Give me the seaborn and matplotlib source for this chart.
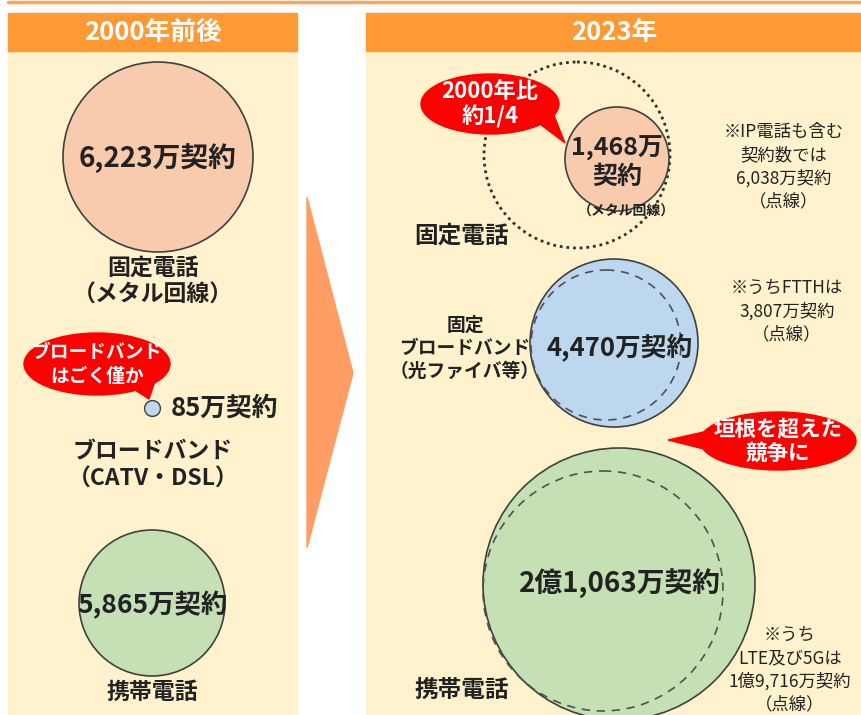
import matplotlib
matplotlib.use("Agg")
import matplotlib.pyplot as plt
from matplotlib.patches import Circle, Ellipse, Polygon, Rectangle
import seaborn as sns

# data (万契約)
services = ["固定電話", "ブロードバンド", "携帯電話"]
values_2000 = [6223, 85, 5865]
values_2023 = [1468, 4470, 21063]
subset_2023 = [6038, 3807, 19716]          # dotted / dashed circles
labels_2000 = ["固定電話\n（メタル回線）", "ブロードバンド\n（CATV・DSL）", "携帯電話"]
labels_2023 = ["固定電話", "固定\nブロードバンド\n（光ファイバ等）", "携帯電話"]
headers = ["2000年前後", "2023年"]
callouts = ["ブロードバンド\nはごく僅か", "2000年比\n約1/4", "垣根を超えた\n競争に"]

sns.set_theme(style="white")
plt.rcParams["font.family"] = ["Noto Sans CJK JP", "DejaVu Sans"]

CREAM = "#FFF2CC"
ORANGE = "#FF9933"
RED = "#FF0000"
INK = "#222222"
EDGE = "#404040"
fills = ["#F8CBAD", "#BDD7EE", "#C5E0B4"]


def fmt(v, split=False):
    if v >= 10000:
        s = f"{v // 10000}億{v % 10000:,}万"
    else:
        s = f"{v:,}万"
    return s + ("\n契約" if split else "契約")


def bubble(ax, cx, cy, w, h, tail, text, size, gap):
    ax.add_patch(Ellipse((cx, cy), w, h, color=RED, zorder=5))
    ax.add_patch(Polygon(tail, closed=True, color=RED, zorder=5))
    parts = text.split("\n")
    y0 = cy - gap * (len(parts) - 1) / 2
    for i, t in enumerate(parts):
        ax.text(cx, y0 + i * gap, t, fontsize=size, ha="center", va="center",
                color="white", fontweight="bold", zorder=6)


fig = plt.figure(figsize=(8.61, 7.15), dpi=100)
ax = fig.add_axes([0, 0, 1, 1])
ax.set_xlim(0, 861)
ax.set_ylim(715, 0)
ax.axis("off")

# panels and headers
ax.plot([8, 861], [1.5, 1.5], color="#F8A85A", lw=2.5, zorder=1)
for (x0, x1), h, hx in zip([(8, 297), (366, 861)], headers, [153, 614]):
    ax.add_patch(Rectangle((x0, 13), x1 - x0, 715 - 13, color=CREAM, zorder=0))
    ax.add_patch(Rectangle((x0, 13), x1 - x0, 38, color=ORANGE, zorder=1))
    ax.text(hx, 32, h, fontsize=18.5, color="white",
            fontweight="bold", ha="center", va="center", zorder=2)
ax.add_patch(Polygon([(307, 197), (353, 373), (307, 548)], color="#FF9E64", zorder=1))

# ---- 2000年前後
left_xy = [(158, 157), (152, 408), (152, 603)]
left_r = [95, 6, 73]
for i, v in enumerate(values_2000):
    (cx, cy), r = left_xy[i], left_r[i]
    if i == 1:
        sns.scatterplot(x=[cx], y=[cy], s=130, color=fills[1], edgecolor=EDGE,
                        linewidth=1, ax=ax, zorder=4, legend=False)
        ax.text(225, cy, fmt(v), fontsize=18.5, fontweight="bold", color=INK,
                ha="center", va="center")
    else:
        ax.add_patch(Circle((cx, cy), r, facecolor=fills[i], edgecolor=EDGE, lw=1.2, zorder=3))
        ax.text(cx, cy + 2, fmt(v), fontsize=20 if i == 0 else 19, fontweight="bold",
                color=INK, ha="center", va="center", zorder=4)

for (x, y), lab in zip([(153, 268), (153, 452), (152, 692)], labels_2000):
    for j, t in enumerate(lab.split("\n")):
        ax.text(x, y + j * 27, t, fontsize=16.5, fontweight="bold", color=INK,
                ha="center", va="center")

bubble(ax, 97, 364, 146, 62, [(132, 388), (156, 378), (149, 399)], callouts[0], 13.5, 24)

# ---- 2023年
ax.add_patch(Circle((577, 155), 93, fill=False, edgecolor="#303030", lw=2.0,
                    linestyle=(0, (1, 1.4)), zorder=3))
ax.add_patch(Circle((617, 159), 52, facecolor=fills[0], edgecolor=EDGE, lw=1.2, zorder=3))
top, bottom = fmt(values_2023[0], True).split("\n")
ax.text(617, 148, top, fontsize=18, fontweight="bold", color=INK,
        ha="center", va="center", zorder=4)
ax.text(617, 177, bottom, fontsize=18, fontweight="bold", color=INK,
        ha="center", va="center", zorder=4)
ax.text(626, 212, "（メタル回線）", fontsize=10, fontweight="bold", color=INK,
        ha="center", va="center", zorder=4)

ax.add_patch(Circle((614, 343), 84, facecolor=fills[1], edgecolor=EDGE, lw=1.2, zorder=3))
ax.add_patch(Circle((606, 345), 75, fill=False, edgecolor="#505050", lw=1.2,
                    linestyle=(0, (5, 4)), zorder=3))
ax.text(620, 347, fmt(values_2023[1]), fontsize=18.5, fontweight="bold", color=INK,
        ha="center", va="center", zorder=4)

ax.add_patch(Circle((619, 584), 136, facecolor=fills[2], edgecolor=EDGE, lw=1.2, zorder=3))
ax.add_patch(Circle((603, 591), 120, fill=False, edgecolor="#505050", lw=1.2,
                    linestyle=(0, (5, 4)), zorder=3))
ax.text(620, 584, fmt(values_2023[2]), fontsize=20, fontweight="bold", color=INK,
        ha="center", va="center", zorder=4)

for (x, y), lab in zip([(462, 236), (465, 325), (462, 690)], labels_2023):
    for j, t in enumerate(lab.split("\n")):
        ax.text(x, y + j * 23, t, fontsize=17 if lab.count("\n") == 0 else 13.5,
                fontweight="bold", color=INK, ha="center", va="center")

notes = [
    f"※IP電話も含む\n契約数では\n{fmt(subset_2023[0])}\n（点線）",
    f"※うちFTTHは\n{fmt(subset_2023[1])}\n（点線）",
    f"※うち\nLTE及び5Gは\n{fmt(subset_2023[2])}\n（点線）",
]
for (x, y), note in zip([(784, 132), (787, 288), (790, 635)], notes):
    for j, t in enumerate(note.split("\n")):
        ax.text(x, y + j * 23, t, fontsize=12.5, color=INK, ha="center", va="center")

bubble(ax, 490, 104, 138, 60, [(540, 124), (553, 113), (565, 143)], callouts[1], 16, 26)
bubble(ax, 778, 441, 156, 58, [(708, 431), (712, 451), (668, 440)], callouts[2], 15.5, 24)

fig.savefig("out.png", dpi=100)
